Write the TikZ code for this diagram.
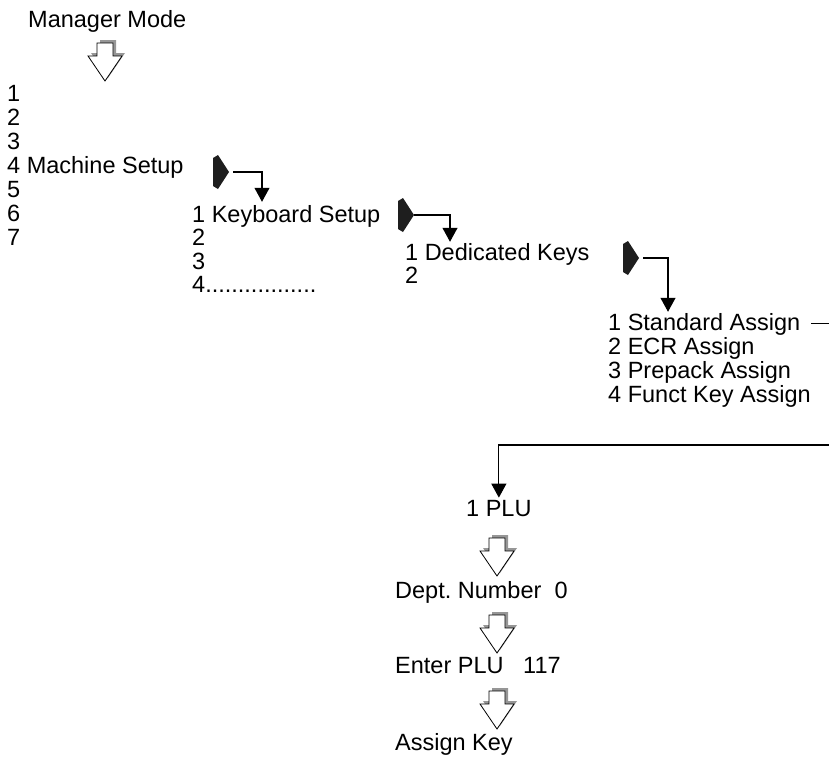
\documentclass[tikz,border=0pt]{standalone}
\usepackage{fontspec}
\setmainfont{Liberation Sans}
\usetikzlibrary{arrows.meta}
\definecolor{GrisSombra}{RGB}{150,150,150}
\definecolor{NegroPuntero}{RGB}{30,30,30}
\tikzset{
  menu/.style={anchor=base west,inner sep=0pt,font=\fontsize{23.5}{24}\selectfont},
  conn/.style={line width=1.1pt,-{Triangle[width=15pt,length=14pt]}},
  pics/hollow/.style={code={
    \fill[GrisSombra,shift={(3,-3)}] (-8,0) -- (8,0) -- (8,13) -- (17,13) -- (0,38) -- (-17,13) -- (-8,13) -- cycle;
    \filldraw[fill=white,draw=black,line width=0.8pt] (-8,0) -- (8,0) -- (8,13) -- (17,13) -- (0,38) -- (-17,13) -- (-8,13) -- cycle;
  }},
  pics/pointer/.style={code={
    \fill[NegroPuntero] (-8,-14) -- (-3,-17) -- (8,0) -- (-3,17) -- (-8,14) -- cycle;
    \coordinate (-tip) at (8,0);
  }},
}
\begin{document}
\begin{tikzpicture}[x=1pt,y=-1pt]
  \useasboundingbox (0,0) rectangle (829,758);

  \node[menu] (mgr) at (28,27) {Manager Mode};
  \pic (h1) at (105,43) {hollow};

  \node[menu] (m1) at (7,101) {1};
  \node[menu] (m2) at (7,125) {2};
  \node[menu] (m3) at (7,149) {3};
  \node[menu] (m4) at (7,173) {4 Machine Setup};
  \node[menu] (m5) at (7,197) {5};
  \node[menu] (m6) at (7,221) {6};
  \node[menu] (m7) at (7,245) {7};
  \pic (p1) at (221,172) {pointer};

  \node[menu] (kb1) at (192,222) {1 Keyboard Setup};
  \node[menu] (kb2) at (192,245.5) {2};
  \node[menu] (kb3) at (192,269) {3};
  \node[menu] (kb4) at (192,292.5) {4.................};
  \pic (p2) at (406,215) {pointer};

  \node[menu] (dk1) at (405,260) {1 Dedicated Keys};
  \node[menu] (dk2) at (405,283) {2};
  \pic (p3) at (631,258) {pointer};

  \node[menu] (sa1) at (608,330) {1 Standard Assign};
  \node[menu] (sa2) at (608,354) {2 ECR Assign};
  \node[menu] (sa3) at (608,378) {3 Prepack Assign};
  \node[menu] (sa4) at (608,402) {4 Funct Key Assign};

  \node[menu] (plu) at (466,516) {1 PLU};
  \pic (h2) at (497,538) {hollow};
  \node[menu] (dept) at (395,598) {Dept.\ Number\ \ 0};
  \pic (h3) at (497,615) {hollow};
  \node[menu] (enter) at (395,673) {Enter PLU\ \ \ 117};
  \pic (h4) at (497,691) {hollow};
  \node[menu] (assign) at (395,750) {Assign Key};

  % elbow connectors
  \draw[conn] ([xshift=4pt]p1-tip) -| ([xshift=70pt,yshift=3pt]kb1.north west);
  \draw[conn] (p2-tip) -| ([xshift=45pt,yshift=1pt]dk1.north west);
  \draw[conn] ([xshift=4pt]p3-tip) -| ([xshift=60pt,yshift=1pt]sa1.north west);

  % goes off the right edge and comes back
  \coordinate (rimA) at (829,325);
  \coordinate (rimB) at (829,445);
  \draw[line width=1.1pt] ([xshift=11pt]sa1.east) -- (sa1.east -| rimA);
  \draw[conn] (rimB) -| ([yshift=2pt]plu.north);
\end{tikzpicture}
\end{document}
